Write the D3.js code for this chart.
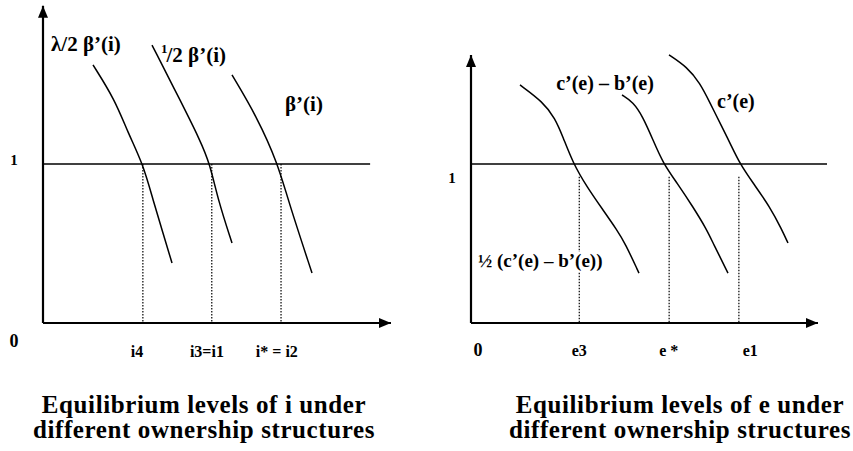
<!DOCTYPE html>
<html lang="en">
<head>
<meta charset="utf-8">
<title>Equilibrium levels</title>
<script src="https://d3js.org/d3.v7.min.js"></script>
<style>
body { margin: 0; background: #fff; }
text { font-family: "Liberation Serif", "Times New Roman", serif; font-weight: bold; fill: #000; }
</style>
</head>
<body>
<div id="chart"></div>
<script>
// ---- left panel data (x in abstract units 0..10, y with 1 = equilibrium line)
var lamCurve = [[1.437,1.623],[2.069,1.403],[2.443,1.195],[2.874,1.000],[3.161,0.774],[3.448,0.566],[3.707,0.377]];
var halfCurve = [[3.132,1.748],[3.937,1.403],[4.511,1.151],[4.799,1.000],[5.029,0.774],[5.431,0.503]];
var betaCurve = [[5.431,1.560],[6.149,1.296],[6.753,1.000],[7.040,0.774],[7.730,0.314]];
var leftDrops = [2.87, 4.85, 6.84];
var leftTicks = ["i4", "i3=i1", "i* = i2"];
var leftTickPos = [2.70, 4.71, 6.72];

// ---- right panel data
var halfDiff = [[1.412,1.497],[2.075,1.390],[2.421,1.289],[2.651,1.170],[2.939,1.006],[3.343,0.855],[3.804,0.711],[4.207,0.585],[4.438,0.503],[4.841,0.314]];
var diffCurve = [[4.352,1.434],[4.669,1.390],[4.957,1.296],[5.245,1.151],[5.533,1.006],[5.937,0.881],[6.398,0.730],[6.801,0.585],[6.974,0.503],[7.406,0.314]];
var cCurve = [[5.706,1.686],[6.225,1.610],[6.599,1.509],[6.888,1.384],[7.233,1.233],[7.464,1.132],[7.752,1.000],[8.127,0.881],[8.617,0.730],[8.963,0.585],[9.135,0.503]];
var rightDrops = [3.12, 5.71, 7.72];
var rightTicks = ["e3", "e *", "e1"];
var rightTickPos = [3.12, 5.70, 8.05];

var W = 853, H = 451;
var svg = d3.select("#chart").append("svg").attr("width", W).attr("height", H);

svg.append("defs").append("marker")
  .attr("id", "arrow")
  .attr("viewBox", "0 0 12 10")
  .attr("refX", 12).attr("refY", 5)
  .attr("markerWidth", 12).attr("markerHeight", 10)
  .attr("markerUnits", "userSpaceOnUse")
  .attr("orient", "auto")
  .append("path").attr("d", "M0,0 L12,5 L0,10 Z").attr("fill", "#000");

var line = d3.line().curve(d3.curveBasis);

function panel(o) {
  var x = d3.scaleLinear().domain([0, 10]).range(o.xr);
  var y = d3.scaleLinear().domain([0, 1]).range([323, 164]);
  var g = svg.append("g");

  // axes
  g.append("line").attr("x1", x(0)).attr("y1", y(0)).attr("x2", x(0)).attr("y2", y(o.ytop))
    .attr("stroke", "#000").attr("stroke-width", 2.2).attr("marker-end", "url(#arrow)");
  g.append("line").attr("x1", x(0)).attr("y1", y(0)).attr("x2", x(10)).attr("y2", y(0))
    .attr("stroke", "#000").attr("stroke-width", 2.2).attr("marker-end", "url(#arrow)");
  // level 1
  g.append("line").attr("x1", x(0)).attr("x2", x(o.hend)).attr("y1", y(1)).attr("y2", y(1))
    .attr("stroke", "#000").attr("stroke-width", 1.4);

  // dotted drop lines
  g.selectAll(".drop").data(o.drops).enter().append("line")
    .attr("x1", function(d) { return x(d); }).attr("x2", function(d) { return x(d); })
    .attr("y1", y(o.dropTop)).attr("y2", y(0))
    .attr("stroke", "#000").attr("stroke-width", 1.2).attr("stroke-dasharray", "1.5,1.5");

  // curves
  g.selectAll(".curve").data(o.curves).enter().append("path")
    .attr("d", function(d) { return line(d.map(function(p) { return [x(p[0]), y(p[1])]; })); })
    .attr("fill", "none").attr("stroke", "#000").attr("stroke-width", 1.5);

  // tick labels
  g.selectAll(".tk").data(o.ticks).enter().append("text")
    .attr("x", function(d, i) { return x(o.tickPos[i]); }).attr("y", o.tickY)
    .attr("text-anchor", "middle").attr("font-size", 16).text(function(d) { return d; });

  g.append("text").attr("x", o.oneX).attr("y", o.oneY).attr("font-size", 15).attr("text-anchor", "middle").text("1");
  g.append("text").attr("x", o.zeroX).attr("y", o.zeroY).attr("font-size", 18).attr("text-anchor", "middle").text("0");

  // title
  g.selectAll(".ttl").data(o.title).enter().append("text")
    .attr("x", o.titleX).attr("y", function(d, i) { return 413 + i * 25; })
    .attr("text-anchor", "middle").attr("font-size", 25).attr("letter-spacing", 0.6)
    .text(function(d) { return d; });
  return {g: g, x: x, y: y};
}

var L = panel({
  xr: [43, 391], ytop: 1.995, hend: 9.4, drops: leftDrops, dropTop: 1,
  curves: [lamCurve, halfCurve, betaCurve],
  ticks: leftTicks, tickPos: leftTickPos, tickY: 357,
  oneX: 14, oneY: 165, zeroX: 14, zeroY: 347,
  titleX: 204, title: ["Equilibrium levels of i under", "different ownership structures"]
});

L.g.append("text").attr("x", 51).attr("y", 51).attr("font-size", 21).text("λ/2 β’(i)");
var ht = L.g.append("text").attr("x", 161).attr("y", 62).attr("font-size", 21);
ht.append("tspan").attr("font-size", 13).attr("dy", -9).text("1");
ht.append("tspan").attr("dx", -1).attr("dy", 9).text("/2 β’(i)");
L.g.append("text").attr("x", 285).attr("y", 111).attr("font-size", 21).text("β’(i)");

var R = panel({
  xr: [471, 818], ytop: 1.686, hend: 10.26, drops: rightDrops, dropTop: 0.92,
  curves: [halfDiff, diffCurve, cCurve],
  ticks: rightTicks, tickPos: rightTickPos, tickY: 356,
  oneX: 452, oneY: 183, zeroX: 478, zeroY: 356,
  titleX: 680, title: ["Equilibrium levels of e under", "different ownership structures"]
});

R.g.append("text").attr("x", 605).attr("y", 90).attr("font-size", 20).attr("text-anchor", "middle").text("c’(e) – b’(e)");
R.g.append("text").attr("x", 717).attr("y", 108).attr("font-size", 20).text("c’(e)");
var lab = R.g.append("text").attr("x", 478).attr("y", 267).attr("font-size", 19).text("½ (c’(e) – b’(e))");
var bb = lab.node().getBBox();
R.g.insert("rect", "text").attr("x", bb.x).attr("y", bb.y + 2).attr("width", bb.width).attr("height", bb.height - 2).attr("fill", "#fff");
</script>
</body>
</html>
